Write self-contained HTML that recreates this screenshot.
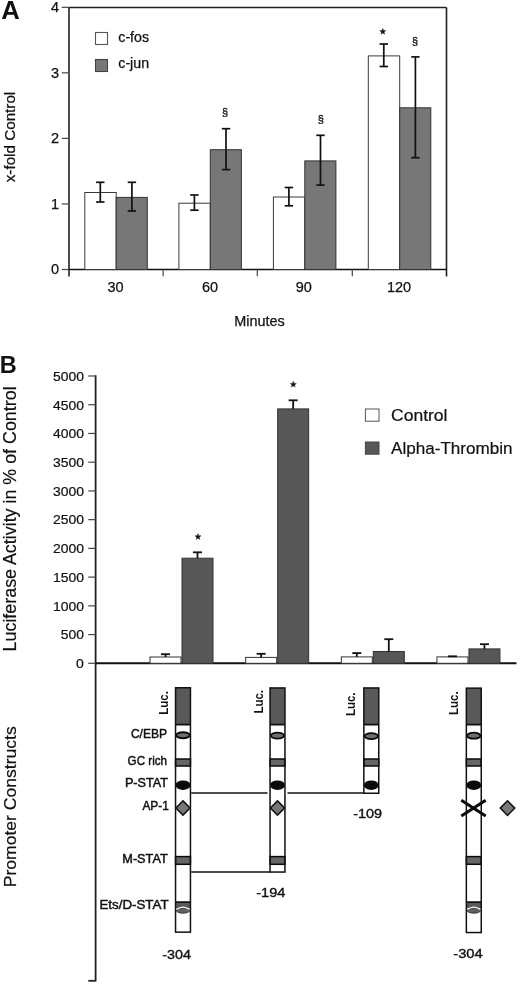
<!DOCTYPE html>
<html><head><meta charset="utf-8"><style>
html,body{margin:0;padding:0;background:#fff;}
body{width:520px;height:984px;overflow:hidden;}
svg{display:block;font-family:"Liberation Sans", sans-serif;filter:grayscale(1);}
</style></head><body>
<svg width="520" height="984" viewBox="0 0 520 984">
<rect x="0" y="0" width="520" height="984" fill="#fff"/>
<text x="1.3" y="18.7" font-size="25" text-anchor="start" font-weight="bold" fill="#111"  textLength="18.6" lengthAdjust="spacingAndGlyphs">A</text>
<line x1="69.0" y1="7.5" x2="446.5" y2="7.5" stroke="#222" stroke-width="1.4"/>
<line x1="446.5" y1="7.5" x2="446.5" y2="276.5" stroke="#222" stroke-width="1.6"/>
<line x1="69.0" y1="7.5" x2="69.0" y2="276.5" stroke="#222" stroke-width="1.6"/>
<line x1="69.0" y1="269.5" x2="446.5" y2="269.5" stroke="#111" stroke-width="1.6"/>
<line x1="61.8" y1="269.5" x2="69.0" y2="269.5" stroke="#444" stroke-width="1.2"/>
<text x="59.2" y="274.2" font-size="14.5" text-anchor="end" font-weight="normal" fill="#111"  stroke="#111" stroke-width="0.25">0</text>
<line x1="61.8" y1="203.95" x2="69.0" y2="203.95" stroke="#444" stroke-width="1.2"/>
<text x="59.2" y="208.64999999999998" font-size="14.5" text-anchor="end" font-weight="normal" fill="#111"  stroke="#111" stroke-width="0.25">1</text>
<line x1="61.8" y1="138.4" x2="69.0" y2="138.4" stroke="#444" stroke-width="1.2"/>
<text x="59.2" y="143.1" font-size="14.5" text-anchor="end" font-weight="normal" fill="#111"  stroke="#111" stroke-width="0.25">2</text>
<line x1="61.8" y1="72.85000000000002" x2="69.0" y2="72.85000000000002" stroke="#444" stroke-width="1.2"/>
<text x="59.2" y="77.55000000000003" font-size="14.5" text-anchor="end" font-weight="normal" fill="#111"  stroke="#111" stroke-width="0.25">3</text>
<line x1="61.8" y1="7.300000000000011" x2="69.0" y2="7.300000000000011" stroke="#444" stroke-width="1.2"/>
<text x="59.2" y="12.00000000000001" font-size="14.5" text-anchor="end" font-weight="normal" fill="#111"  stroke="#111" stroke-width="0.25">4</text>
<line x1="163.1" y1="269.5" x2="163.1" y2="276.3" stroke="#444" stroke-width="1.2"/>
<line x1="257.3" y1="269.5" x2="257.3" y2="276.3" stroke="#444" stroke-width="1.2"/>
<line x1="352.3" y1="269.5" x2="352.3" y2="276.3" stroke="#444" stroke-width="1.2"/>
<text x="115.5" y="292.3" font-size="14.5" text-anchor="middle" font-weight="normal" fill="#111"  stroke="#111" stroke-width="0.25">30</text>
<text x="210.0" y="292.3" font-size="14.5" text-anchor="middle" font-weight="normal" fill="#111"  stroke="#111" stroke-width="0.25">60</text>
<text x="303.7" y="292.3" font-size="14.5" text-anchor="middle" font-weight="normal" fill="#111"  stroke="#111" stroke-width="0.25">90</text>
<text x="399.0" y="292.3" font-size="14.5" text-anchor="middle" font-weight="normal" fill="#111"  stroke="#111" stroke-width="0.25">120</text>
<text x="259.5" y="326.2" font-size="13.9" text-anchor="middle" font-weight="normal" fill="#111"  textLength="50.5" lengthAdjust="spacingAndGlyphs" stroke="#111" stroke-width="0.25">Minutes</text>
<text x="0" y="0" font-size="14.8" text-anchor="middle" font-weight="normal" fill="#111" transform="translate(15.2,137) rotate(-90)" textLength="90.5" lengthAdjust="spacingAndGlyphs" stroke="#111" stroke-width="0.25">x-fold Control</text>
<rect x="95.5" y="32.5" width="12" height="12" fill="#fff" stroke="#555" stroke-width="1.1"/>
<rect x="95.5" y="59.5" width="12" height="12" fill="#777" stroke="#444" stroke-width="1.1"/>
<text x="118.3" y="42.3" font-size="14.2" text-anchor="start" font-weight="normal" fill="#111"  stroke="#111" stroke-width="0.25">c-fos</text>
<text x="118.3" y="68.1" font-size="14.2" text-anchor="start" font-weight="normal" fill="#111"  stroke="#111" stroke-width="0.25">c-jun</text>
<rect x="84.80000000000001" y="192.5" width="31.4" height="77.0" fill="#fff" stroke="#3a3a3a" stroke-width="1.0"/>
<rect x="116.2" y="197.4" width="31.1" height="72.1" fill="#777" stroke="#333" stroke-width="1.0"/>
<line x1="100.3" y1="182.3" x2="100.3" y2="202.0" stroke="#111" stroke-width="1.7"/>
<line x1="96.1" y1="182.3" x2="104.5" y2="182.3" stroke="#111" stroke-width="1.7"/>
<line x1="96.1" y1="202.0" x2="104.5" y2="202.0" stroke="#111" stroke-width="1.7"/>
<line x1="131.9" y1="182.3" x2="131.9" y2="211.0" stroke="#111" stroke-width="1.7"/>
<line x1="127.7" y1="182.3" x2="136.1" y2="182.3" stroke="#111" stroke-width="1.7"/>
<line x1="127.7" y1="211.0" x2="136.1" y2="211.0" stroke="#111" stroke-width="1.7"/>
<rect x="178.9" y="203.2" width="31.4" height="66.30000000000001" fill="#fff" stroke="#3a3a3a" stroke-width="1.0"/>
<rect x="210.3" y="149.7" width="31.1" height="119.80000000000001" fill="#777" stroke="#333" stroke-width="1.0"/>
<line x1="194.4" y1="195.0" x2="194.4" y2="210.2" stroke="#111" stroke-width="1.7"/>
<line x1="190.20000000000002" y1="195.0" x2="198.6" y2="195.0" stroke="#111" stroke-width="1.7"/>
<line x1="190.20000000000002" y1="210.2" x2="198.6" y2="210.2" stroke="#111" stroke-width="1.7"/>
<line x1="226.0" y1="128.7" x2="226.0" y2="169.6" stroke="#111" stroke-width="1.7"/>
<line x1="221.8" y1="128.7" x2="230.2" y2="128.7" stroke="#111" stroke-width="1.7"/>
<line x1="221.8" y1="169.6" x2="230.2" y2="169.6" stroke="#111" stroke-width="1.7"/>
<rect x="273.40000000000003" y="197.0" width="31.4" height="72.5" fill="#fff" stroke="#3a3a3a" stroke-width="1.0"/>
<rect x="304.8" y="160.9" width="31.1" height="108.6" fill="#777" stroke="#333" stroke-width="1.0"/>
<line x1="288.90000000000003" y1="187.5" x2="288.90000000000003" y2="205.8" stroke="#111" stroke-width="1.7"/>
<line x1="284.70000000000005" y1="187.5" x2="293.1" y2="187.5" stroke="#111" stroke-width="1.7"/>
<line x1="284.70000000000005" y1="205.8" x2="293.1" y2="205.8" stroke="#111" stroke-width="1.7"/>
<line x1="320.5" y1="135.3" x2="320.5" y2="185.1" stroke="#111" stroke-width="1.7"/>
<line x1="316.3" y1="135.3" x2="324.7" y2="135.3" stroke="#111" stroke-width="1.7"/>
<line x1="316.3" y1="185.1" x2="324.7" y2="185.1" stroke="#111" stroke-width="1.7"/>
<rect x="368.3" y="55.9" width="31.4" height="213.6" fill="#fff" stroke="#3a3a3a" stroke-width="1.0"/>
<rect x="399.7" y="107.8" width="31.1" height="161.7" fill="#777" stroke="#333" stroke-width="1.0"/>
<line x1="383.8" y1="44.0" x2="383.8" y2="66.5" stroke="#111" stroke-width="1.7"/>
<line x1="379.6" y1="44.0" x2="388.0" y2="44.0" stroke="#111" stroke-width="1.7"/>
<line x1="379.6" y1="66.5" x2="388.0" y2="66.5" stroke="#111" stroke-width="1.7"/>
<line x1="415.4" y1="56.9" x2="415.4" y2="157.7" stroke="#111" stroke-width="1.7"/>
<line x1="411.2" y1="56.9" x2="419.59999999999997" y2="56.9" stroke="#111" stroke-width="1.7"/>
<line x1="411.2" y1="157.7" x2="419.59999999999997" y2="157.7" stroke="#111" stroke-width="1.7"/>
<text x="225.00000000000003" y="116.4" font-size="11" text-anchor="middle" font-weight="normal" fill="#111"  stroke="#111" stroke-width="0.3">§</text>
<text x="320.90000000000003" y="122.6" font-size="11" text-anchor="middle" font-weight="normal" fill="#111"  stroke="#111" stroke-width="0.3">§</text>
<text x="415.1" y="44.8" font-size="11" text-anchor="middle" font-weight="normal" fill="#111"  stroke="#111" stroke-width="0.3">§</text>
<polygon points="382.80,28.40 383.59,30.51 385.84,30.61 384.08,32.02 384.68,34.19 382.80,32.95 380.92,34.19 381.52,32.02 379.76,30.61 382.01,30.51" fill="#111" stroke="#111" stroke-width="0.4" stroke-linejoin="round"/>
<text x="-0.2" y="373.1" font-size="23.5" text-anchor="start" font-weight="bold" fill="#111" >B</text>
<line x1="95.6" y1="375.3" x2="95.6" y2="981.5" stroke="#222" stroke-width="1.8"/>
<line x1="88.3" y1="980.8" x2="95.6" y2="980.8" stroke="#222" stroke-width="1.8"/>
<line x1="88.2" y1="663.3" x2="95.6" y2="663.3" stroke="#444" stroke-width="1.2"/>
<text x="83.9" y="668.0999999999999" font-size="12.8" text-anchor="end" font-weight="normal" fill="#111"  textLength="7.8" lengthAdjust="spacingAndGlyphs" stroke="#111" stroke-width="0.2">0</text>
<line x1="88.2" y1="634.5699999999999" x2="95.6" y2="634.5699999999999" stroke="#444" stroke-width="1.2"/>
<text x="83.9" y="639.3699999999999" font-size="12.8" text-anchor="end" font-weight="normal" fill="#111"  textLength="23.2" lengthAdjust="spacingAndGlyphs" stroke="#111" stroke-width="0.2">500</text>
<line x1="88.2" y1="605.8399999999999" x2="95.6" y2="605.8399999999999" stroke="#444" stroke-width="1.2"/>
<text x="83.9" y="610.6399999999999" font-size="12.8" text-anchor="end" font-weight="normal" fill="#111"  textLength="31.0" lengthAdjust="spacingAndGlyphs" stroke="#111" stroke-width="0.2">1000</text>
<line x1="88.2" y1="577.1099999999999" x2="95.6" y2="577.1099999999999" stroke="#444" stroke-width="1.2"/>
<text x="83.9" y="581.9099999999999" font-size="12.8" text-anchor="end" font-weight="normal" fill="#111"  textLength="31.0" lengthAdjust="spacingAndGlyphs" stroke="#111" stroke-width="0.2">1500</text>
<line x1="88.2" y1="548.38" x2="95.6" y2="548.38" stroke="#444" stroke-width="1.2"/>
<text x="83.9" y="553.18" font-size="12.8" text-anchor="end" font-weight="normal" fill="#111"  textLength="31.0" lengthAdjust="spacingAndGlyphs" stroke="#111" stroke-width="0.2">2000</text>
<line x1="88.2" y1="519.65" x2="95.6" y2="519.65" stroke="#444" stroke-width="1.2"/>
<text x="83.9" y="524.4499999999999" font-size="12.8" text-anchor="end" font-weight="normal" fill="#111"  textLength="31.0" lengthAdjust="spacingAndGlyphs" stroke="#111" stroke-width="0.2">2500</text>
<line x1="88.2" y1="490.91999999999996" x2="95.6" y2="490.91999999999996" stroke="#444" stroke-width="1.2"/>
<text x="83.9" y="495.71999999999997" font-size="12.8" text-anchor="end" font-weight="normal" fill="#111"  textLength="31.0" lengthAdjust="spacingAndGlyphs" stroke="#111" stroke-width="0.2">3000</text>
<line x1="88.2" y1="462.18999999999994" x2="95.6" y2="462.18999999999994" stroke="#444" stroke-width="1.2"/>
<text x="83.9" y="466.98999999999995" font-size="12.8" text-anchor="end" font-weight="normal" fill="#111"  textLength="31.0" lengthAdjust="spacingAndGlyphs" stroke="#111" stroke-width="0.2">3500</text>
<line x1="88.2" y1="433.4599999999999" x2="95.6" y2="433.4599999999999" stroke="#444" stroke-width="1.2"/>
<text x="83.9" y="438.25999999999993" font-size="12.8" text-anchor="end" font-weight="normal" fill="#111"  textLength="31.0" lengthAdjust="spacingAndGlyphs" stroke="#111" stroke-width="0.2">4000</text>
<line x1="88.2" y1="404.72999999999996" x2="95.6" y2="404.72999999999996" stroke="#444" stroke-width="1.2"/>
<text x="83.9" y="409.53" font-size="12.8" text-anchor="end" font-weight="normal" fill="#111"  textLength="31.0" lengthAdjust="spacingAndGlyphs" stroke="#111" stroke-width="0.2">4500</text>
<line x1="88.2" y1="375.99999999999994" x2="95.6" y2="375.99999999999994" stroke="#444" stroke-width="1.2"/>
<text x="83.9" y="380.79999999999995" font-size="12.8" text-anchor="end" font-weight="normal" fill="#111"  textLength="31.0" lengthAdjust="spacingAndGlyphs" stroke="#111" stroke-width="0.2">5000</text>
<line x1="95.6" y1="663.3" x2="516.5" y2="663.3" stroke="#111" stroke-width="2.0"/>
<rect x="150.0" y="657.0" width="31.0" height="6.2999999999999545" fill="#fff" stroke="#333" stroke-width="1.0"/>
<rect x="182.0" y="558.2" width="31.0" height="105.09999999999991" fill="#575757" stroke="#333" stroke-width="1.0"/>
<line x1="165.5" y1="654.2" x2="165.5" y2="657.0" stroke="#111" stroke-width="1.8"/>
<line x1="161.0" y1="654.2" x2="170.0" y2="654.2" stroke="#111" stroke-width="1.8"/>
<line x1="197.5" y1="552.3" x2="197.5" y2="558.2" stroke="#111" stroke-width="1.8"/>
<line x1="193.0" y1="552.3" x2="202.0" y2="552.3" stroke="#111" stroke-width="1.8"/>
<rect x="245.64999999999998" y="657.4" width="31.0" height="5.899999999999977" fill="#fff" stroke="#333" stroke-width="1.0"/>
<rect x="277.65" y="408.9" width="31.0" height="254.39999999999998" fill="#575757" stroke="#333" stroke-width="1.0"/>
<line x1="261.15" y1="653.8" x2="261.15" y2="657.4" stroke="#111" stroke-width="1.8"/>
<line x1="256.65" y1="653.8" x2="265.65" y2="653.8" stroke="#111" stroke-width="1.8"/>
<line x1="293.15" y1="400.3" x2="293.15" y2="408.9" stroke="#111" stroke-width="1.8"/>
<line x1="288.65" y1="400.3" x2="297.65" y2="400.3" stroke="#111" stroke-width="1.8"/>
<rect x="341.3" y="656.9" width="31.0" height="6.399999999999977" fill="#fff" stroke="#333" stroke-width="1.0"/>
<rect x="373.3" y="651.5" width="31.0" height="11.799999999999955" fill="#575757" stroke="#333" stroke-width="1.0"/>
<line x1="356.8" y1="653.1" x2="356.8" y2="656.9" stroke="#111" stroke-width="1.8"/>
<line x1="352.3" y1="653.1" x2="361.3" y2="653.1" stroke="#111" stroke-width="1.8"/>
<line x1="388.8" y1="639.2" x2="388.8" y2="651.5" stroke="#111" stroke-width="1.8"/>
<line x1="384.3" y1="639.2" x2="393.3" y2="639.2" stroke="#111" stroke-width="1.8"/>
<rect x="436.95000000000005" y="656.9" width="31.0" height="6.399999999999977" fill="#fff" stroke="#333" stroke-width="1.0"/>
<rect x="468.95000000000005" y="648.9" width="31.0" height="14.399999999999977" fill="#575757" stroke="#333" stroke-width="1.0"/>
<line x1="452.45000000000005" y1="656.3" x2="452.45000000000005" y2="656.9" stroke="#111" stroke-width="1.8"/>
<line x1="447.95000000000005" y1="656.3" x2="456.95000000000005" y2="656.3" stroke="#111" stroke-width="1.8"/>
<line x1="484.45000000000005" y1="644.2" x2="484.45000000000005" y2="648.9" stroke="#111" stroke-width="1.8"/>
<line x1="479.95000000000005" y1="644.2" x2="488.95000000000005" y2="644.2" stroke="#111" stroke-width="1.8"/>
<polygon points="198.00,533.60 198.79,535.71 201.04,535.81 199.28,537.22 199.88,539.39 198.00,538.15 196.12,539.39 196.72,537.22 194.96,535.81 197.21,535.71" fill="#111" stroke="#111" stroke-width="0.4" stroke-linejoin="round"/>
<polygon points="293.30,381.30 294.09,383.41 296.34,383.51 294.58,384.92 295.18,387.09 293.30,385.85 291.42,387.09 292.02,384.92 290.26,383.51 292.51,383.41" fill="#111" stroke="#111" stroke-width="0.4" stroke-linejoin="round"/>
<rect x="365.4" y="409.0" width="13.6" height="12.2" fill="#fff" stroke="#555" stroke-width="1.0"/>
<rect x="365.4" y="442.0" width="13.6" height="12.2" fill="#575757" stroke="#444" stroke-width="1.0"/>
<text x="391.0" y="420.5" font-size="16.3" text-anchor="start" font-weight="normal" fill="#111"  textLength="56.5" lengthAdjust="spacingAndGlyphs" stroke="#111" stroke-width="0.2">Control</text>
<text x="391.0" y="453.8" font-size="16.3" text-anchor="start" font-weight="normal" fill="#111"  textLength="121.6" lengthAdjust="spacingAndGlyphs" stroke="#111" stroke-width="0.2">Alpha-Thrombin</text>
<text x="0" y="0" font-size="17.5" text-anchor="middle" font-weight="normal" fill="#111" transform="translate(16.3,518.9) rotate(-90)" textLength="265" lengthAdjust="spacingAndGlyphs" stroke="#111" stroke-width="0.2">Luciferase Activity in % of Control</text>
<text x="0" y="0" font-size="17.0" text-anchor="middle" font-weight="normal" fill="#111" transform="translate(16.1,806.8) rotate(-90)" textLength="161" lengthAdjust="spacingAndGlyphs" stroke="#111" stroke-width="0.2">Promoter Constructs</text>
<rect x="175.55" y="687.75" width="14.899999999999999" height="244.39999999999998" fill="#fff" stroke="none" stroke-width="0"/>
<rect x="175.55" y="687.75" width="14.899999999999999" height="36.85000000000002" fill="#595959" stroke="none" stroke-width="0"/>
<line x1="175.55" y1="724.6" x2="190.45000000000002" y2="724.6" stroke="#111" stroke-width="1.8"/>
<ellipse cx="183.0" cy="735.25" rx="6.7" ry="3.0" fill="#6e6e6e" stroke="#0a0a0a" stroke-width="1.8"/>
<rect x="175.55" y="759.0" width="14.899999999999999" height="7.0" fill="#666" stroke="#0a0a0a" stroke-width="1.5"/>
<ellipse cx="183.0" cy="785.2" rx="7.5" ry="4.8" fill="#0a0a0a"/>
<path d="M183.0 800.9 L190.1 808 L183.0 815.1 L175.9 808 Z" fill="#777" stroke="#111" stroke-width="1.5"/>
<rect x="175.55" y="856.6" width="14.899999999999999" height="7.7" fill="#666" stroke="#0a0a0a" stroke-width="1.5"/>
<rect x="175.55" y="902.1" width="14.899999999999999" height="6.2" fill="#5a5a5a" stroke="none" stroke-width="0"/>
<line x1="175.55" y1="902.1" x2="190.45000000000002" y2="902.1" stroke="#111" stroke-width="1.7"/>
<ellipse cx="183.0" cy="910.6" rx="6.6" ry="2.6" fill="#606060" stroke="#333" stroke-width="0.9"/>
<path d="M176.4 909.6 Q183.0 904.6 189.6 909.6" fill="none" stroke="#fff" stroke-width="1.3"/>
<rect x="175.55" y="687.75" width="14.899999999999999" height="244.39999999999998" fill="none" stroke="#111" stroke-width="1.5"/>
<rect x="270.05" y="687.95" width="14.899999999999999" height="184.0999999999999" fill="#fff" stroke="none" stroke-width="0"/>
<rect x="270.05" y="687.95" width="14.899999999999999" height="36.64999999999998" fill="#595959" stroke="none" stroke-width="0"/>
<line x1="270.05" y1="724.6" x2="284.95" y2="724.6" stroke="#111" stroke-width="1.8"/>
<ellipse cx="277.5" cy="735.6" rx="6.7" ry="3.0" fill="#6e6e6e" stroke="#0a0a0a" stroke-width="1.8"/>
<rect x="270.05" y="759.0" width="14.899999999999999" height="7.0" fill="#666" stroke="#0a0a0a" stroke-width="1.5"/>
<ellipse cx="277.5" cy="785.2" rx="7.5" ry="4.8" fill="#0a0a0a"/>
<path d="M277.5 800.9 L284.6 808 L277.5 815.1 L270.4 808 Z" fill="#777" stroke="#111" stroke-width="1.5"/>
<rect x="270.05" y="856.6" width="14.899999999999999" height="7.7" fill="#666" stroke="#0a0a0a" stroke-width="1.5"/>
<rect x="270.05" y="687.95" width="14.899999999999999" height="184.0999999999999" fill="none" stroke="#111" stroke-width="1.5"/>
<rect x="363.85" y="687.95" width="14.899999999999999" height="105.29999999999995" fill="#fff" stroke="none" stroke-width="0"/>
<rect x="363.85" y="687.95" width="14.899999999999999" height="36.64999999999998" fill="#595959" stroke="none" stroke-width="0"/>
<line x1="363.85" y1="724.6" x2="378.75" y2="724.6" stroke="#111" stroke-width="1.8"/>
<ellipse cx="371.3" cy="736.1" rx="6.7" ry="3.0" fill="#6e6e6e" stroke="#0a0a0a" stroke-width="1.8"/>
<rect x="363.85" y="759.0" width="14.899999999999999" height="7.0" fill="#666" stroke="#0a0a0a" stroke-width="1.5"/>
<ellipse cx="371.3" cy="785.2" rx="7.5" ry="4.8" fill="#0a0a0a"/>
<rect x="363.85" y="687.95" width="14.899999999999999" height="105.29999999999995" fill="none" stroke="#111" stroke-width="1.5"/>
<rect x="466.35" y="688.15" width="14.899999999999999" height="244.39999999999998" fill="#fff" stroke="none" stroke-width="0"/>
<rect x="466.35" y="688.15" width="14.899999999999999" height="36.450000000000045" fill="#595959" stroke="none" stroke-width="0"/>
<line x1="466.35" y1="724.6" x2="481.25" y2="724.6" stroke="#111" stroke-width="1.8"/>
<ellipse cx="473.8" cy="735.7" rx="6.7" ry="3.0" fill="#6e6e6e" stroke="#0a0a0a" stroke-width="1.8"/>
<rect x="466.35" y="759.0" width="14.899999999999999" height="7.0" fill="#666" stroke="#0a0a0a" stroke-width="1.5"/>
<ellipse cx="473.8" cy="785.2" rx="7.5" ry="4.8" fill="#0a0a0a"/>
<rect x="466.35" y="856.6" width="14.899999999999999" height="7.7" fill="#666" stroke="#0a0a0a" stroke-width="1.5"/>
<rect x="466.35" y="902.1" width="14.899999999999999" height="6.2" fill="#5a5a5a" stroke="none" stroke-width="0"/>
<line x1="466.35" y1="902.1" x2="481.25" y2="902.1" stroke="#111" stroke-width="1.7"/>
<ellipse cx="473.8" cy="910.6" rx="6.6" ry="2.6" fill="#606060" stroke="#333" stroke-width="0.9"/>
<path d="M467.2 909.6 Q473.8 904.6 480.40000000000003 909.6" fill="none" stroke="#fff" stroke-width="1.3"/>
<rect x="466.35" y="688.15" width="14.899999999999999" height="244.39999999999998" fill="none" stroke="#111" stroke-width="1.5"/>
<line x1="461.3" y1="800.3" x2="485.7" y2="816.0" stroke="#0a0a0a" stroke-width="3.0"/>
<line x1="461.3" y1="816.0" x2="485.7" y2="800.3" stroke="#0a0a0a" stroke-width="3.0"/>
<path d="M507.5 800.7 L514.8 808.1 L507.5 815.5 L500.2 808.1 Z" fill="#777" stroke="#111" stroke-width="1.5"/>
<line x1="191.20000000000002" y1="793.0" x2="267.5" y2="793.0" stroke="#111" stroke-width="1.5"/>
<line x1="287.5" y1="793.0" x2="364.1" y2="793.0" stroke="#111" stroke-width="1.5"/>
<line x1="191.20000000000002" y1="872.0" x2="270.3" y2="872.0" stroke="#111" stroke-width="1.5"/>
<text x="0" y="0" font-size="13" text-anchor="start" font-weight="bold" fill="#111" transform="translate(168.0,714.6999999999999) rotate(-90)" textLength="23.6" lengthAdjust="spacingAndGlyphs">Luc.</text>
<text x="0" y="0" font-size="13" text-anchor="start" font-weight="bold" fill="#111" transform="translate(262.9,713.6) rotate(-90)" textLength="23.6" lengthAdjust="spacingAndGlyphs">Luc.</text>
<text x="0" y="0" font-size="13" text-anchor="start" font-weight="bold" fill="#111" transform="translate(354.9,716.1) rotate(-90)" textLength="23.6" lengthAdjust="spacingAndGlyphs">Luc.</text>
<text x="0" y="0" font-size="13" text-anchor="start" font-weight="bold" fill="#111" transform="translate(458.2,714.9) rotate(-90)" textLength="23.6" lengthAdjust="spacingAndGlyphs">Luc.</text>
<text x="167.0" y="737.5" font-size="12.3" text-anchor="end" font-weight="normal" fill="#111"  textLength="36.1" lengthAdjust="spacingAndGlyphs" stroke="#111" stroke-width="0.45">C/EBP</text>
<text x="167.0" y="765.1" font-size="12.3" text-anchor="end" font-weight="normal" fill="#111"  textLength="39.4" lengthAdjust="spacingAndGlyphs" stroke="#111" stroke-width="0.45">GC rich</text>
<text x="167.89999999999998" y="786.6" font-size="12.3" text-anchor="end" font-weight="normal" fill="#111"  textLength="43.0" lengthAdjust="spacingAndGlyphs" stroke="#111" stroke-width="0.45">P-STAT</text>
<text x="168.79999999999998" y="809.5" font-size="12.3" text-anchor="end" font-weight="normal" fill="#111"  textLength="26.4" lengthAdjust="spacingAndGlyphs" stroke="#111" stroke-width="0.45">AP-1</text>
<text x="167.7" y="863.4" font-size="12.3" text-anchor="end" font-weight="normal" fill="#111"  textLength="45.4" lengthAdjust="spacingAndGlyphs" stroke="#111" stroke-width="0.45">M-STAT</text>
<text x="168.6" y="908.9" font-size="12.3" text-anchor="end" font-weight="normal" fill="#111"  textLength="69.2" lengthAdjust="spacingAndGlyphs" stroke="#111" stroke-width="0.45">Ets/D-STAT</text>
<text x="191.0" y="958.5" font-size="12.5" text-anchor="end" font-weight="normal" fill="#111"  textLength="28.7" lengthAdjust="spacingAndGlyphs" stroke="#111" stroke-width="0.35">-304</text>
<text x="285.3" y="896.9" font-size="12.5" text-anchor="end" font-weight="normal" fill="#111"  textLength="29.0" lengthAdjust="spacingAndGlyphs" stroke="#111" stroke-width="0.35">-194</text>
<text x="382.2" y="818.0" font-size="12.5" text-anchor="end" font-weight="normal" fill="#111"  textLength="29.0" lengthAdjust="spacingAndGlyphs" stroke="#111" stroke-width="0.35">-109</text>
<text x="482.7" y="958.2" font-size="12.5" text-anchor="end" font-weight="normal" fill="#111"  textLength="29.4" lengthAdjust="spacingAndGlyphs" stroke="#111" stroke-width="0.35">-304</text>
</svg>
</body></html>
